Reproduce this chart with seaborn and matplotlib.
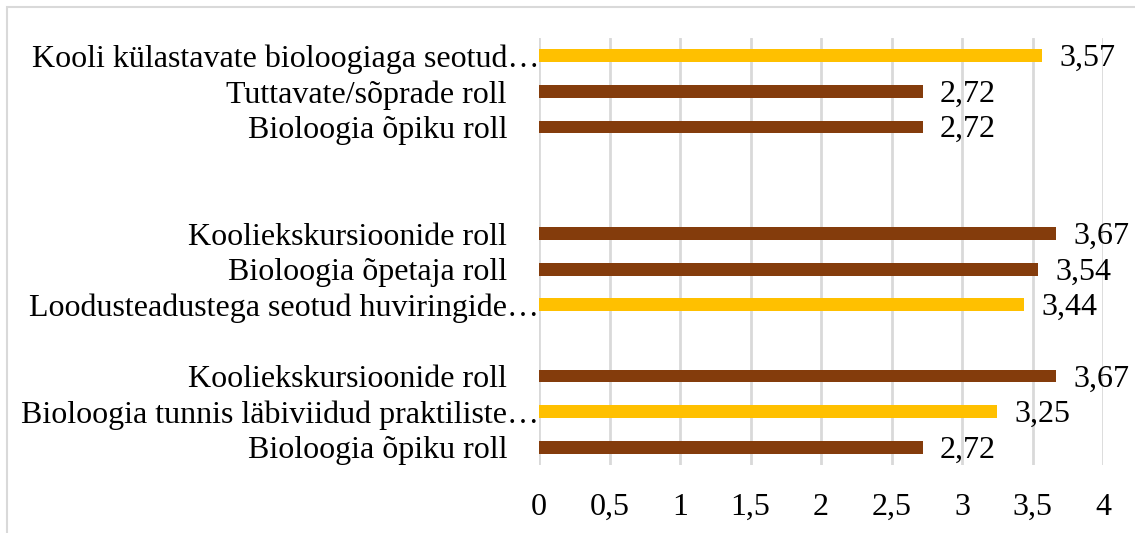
import matplotlib
matplotlib.use("Agg")
import matplotlib.pyplot as plt
from matplotlib.patches import Rectangle
import pandas as pd
import seaborn as sns

# andmed ülevalt alla, tühjad read on rühmade vahed
labels = ["Kooli külastavate bioloogiaga seotud…", "Tuttavate/sõprade roll", "Bioloogia õpiku roll",
          "", "",
          "Kooliekskursioonide roll", "Bioloogia õpetaja roll", "Loodusteadustega seotud huviringide…",
          "",
          "Kooliekskursioonide roll", "Bioloogia tunnis läbiviidud praktiliste…", "Bioloogia õpiku roll"]
values = [3.57, 2.72, 2.72, None, None, 3.67, 3.54, 3.44, None, 3.67, 3.25, 2.72]
groups = ["kollane", "pruun", "pruun", None, None, "pruun", "pruun", "kollane", None, "pruun", "kollane", "pruun"]
xticks = [0, 0.5, 1, 1.5, 2, 2.5, 3, 3.5, 4]

rows = ["r%d" % i for i in range(len(labels))]
df = pd.DataFrame({"rida": rows, "vaartus": values, "grupp": groups}).dropna()

sns.set_theme(style="white")
plt.rcParams["font.family"] = ["Liberation Serif", "DejaVu Serif"]
plt.rcParams["text.color"] = "black"
plt.rcParams["xtick.color"] = "black"
plt.rcParams["ytick.color"] = "black"

FS = 23

fig = plt.figure(figsize=(11.35, 5.33), dpi=100)
ax = fig.add_axes([539 / 1135, 1 - 465 / 533, 564 / 1135, 427 / 533])

sns.barplot(data=df, x="vaartus", y="rida", hue="grupp", order=rows, orient="h",
            palette={"kollane": "#FFC000", "pruun": "#843C0C"}, dodge=False, saturation=1,
            width=0.36, legend=False, ax=ax, zorder=3, linewidth=0)

ax.set_xlim(0, 4)
ax.set_ylim(len(rows) - 0.5, -0.5)
ax.set_xticks(xticks)
ax.set_xticklabels([("%g" % t).replace(".", ",") for t in xticks], fontsize=FS)
ax.set_yticks(range(len(rows)))
# lõpetamata siltidel (…) pole vahet teljega
ax.set_yticklabels([l if l.endswith("…") or l == "" else l + "    " for l in labels], fontsize=FS)
ax.tick_params(axis="x", length=0, pad=20)
ax.tick_params(axis="y", length=0, pad=0)
ax.set_xlabel("")
ax.set_ylabel("")
ax.grid(axis="x", color="#D9D9D9", linewidth=2, zorder=0)
for s in ax.spines.values():
    s.set_visible(False)

for i, v in enumerate(values):
    if v is not None:
        ax.text(v + 0.12, i + 0.08, ("%.2f" % v).replace(".", ","), va="center", ha="left", fontsize=FS)

# diagrammi raam
fig.patches.append(Rectangle((7 / 1135, -0.1), 1.2, 1.1 - 7 / 533, transform=fig.transFigure,
                             fill=False, edgecolor="#D9D9D9", linewidth=1.5))

fig.savefig("out.png", dpi=100)
